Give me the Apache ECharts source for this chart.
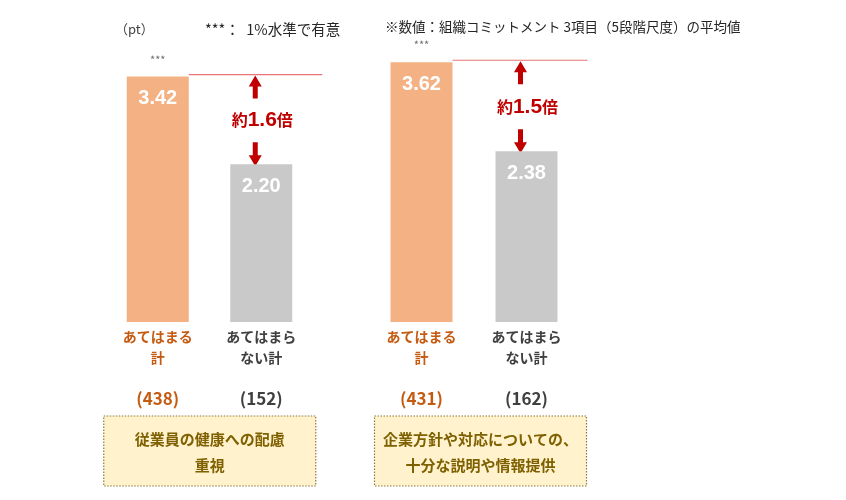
<!DOCTYPE html>
<html>
<head>
<meta charset="utf-8">
<script src="https://cdn.jsdelivr.net/npm/echarts@6/dist/echarts.min.js"></script>
<style>
  html, body { margin: 0; padding: 0; background: #fff; }
  #main { width: 846px; height: 500px; }
</style>
</head>
<body>
<div id="main"></div>
<script>
// データ
var catLines = [['あてはまる', '計'], ['あてはまら', 'ない計']];
var values1 = [3.42, 2.20];
var values2 = [3.62, 2.38];
var counts1 = [438, 152];
var counts2 = [431, 162];
var ratios = ['1.6', '1.5'];
var groupTitles = [['従業員の健康への配慮', '重視'], ['企業方針や対応についての、', '十分な説明や情報提供']];
var yMax = 4;

var FONT = '"Noto Sans CJK JP", "Noto Sans", sans-serif';
var ORANGE = '#F4B183', GRAY = '#C9C9C9';
var ORANGE_TXT = '#C55A11', DARK_TXT = '#404040';
var RED = '#C00000', RED_LINE = '#E87474';

var chart = echarts.init(document.getElementById('main'));

function xAxisFor(gi, counts) {
	return {
		type: 'category', gridIndex: gi, data: catLines.map(function(l){ return l.join(''); }),
		axisLine: {show: false}, axisTick: {show: false},
		axisLabel: {
			margin: 4, interval: 0,
			formatter: function(v, i){
				var s = i == 0 ? 'o' : 'd';
				return '{' + s + '|' + catLines[i][0] + '}\n{' + s + '|' + catLines[i][1] + '}\n{g| }\n{' + s + 'n|(' + counts[i] + ')}';
			},
			rich: {
				o: {color: ORANGE_TXT, fontSize: 14, fontWeight: 'bold', fontFamily: FONT, lineHeight: 21},
				d: {color: DARK_TXT, fontSize: 14, fontWeight: 'bold', fontFamily: FONT, lineHeight: 21},
				g: {fontSize: 10, lineHeight: 20},
				on: {color: ORANGE_TXT, fontSize: 17, fontWeight: 'bold', fontFamily: FONT, lineHeight: 21},
				dn: {color: DARK_TXT, fontSize: 17, fontWeight: 'bold', fontFamily: FONT, lineHeight: 21}
			}
		}
	};
}

function yAxisFor(gi) {
	return {type: 'value', gridIndex: gi, min: 0, max: yMax, show: false, splitLine: {show: false}};
}

function seriesFor(gi, vals) {
	return {
		type: 'bar', xAxisIndex: gi, yAxisIndex: gi, barWidth: 62,
		data: vals.map(function(v, i){ return {value: v, itemStyle: {color: i == 0 ? ORANGE : GRAY}}; }),
		label: {
			show: true, position: 'insideTop', distance: 12,
			color: '#fff', fontSize: 20, fontWeight: 'bold', fontFamily: 'Arial, "Liberation Sans", sans-serif',
			formatter: function(p){ return p.value.toFixed(2); }
		},
		silent: true
	};
}

chart.setOption({
	animation: false,
	grid: [
		{left: 106, width: 207, top: 35, bottom: 178},
		{left: 369, width: 210, top: 35, bottom: 178}
	],
	xAxis: [xAxisFor(0, counts1), xAxisFor(1, counts2)],
	yAxis: [yAxisFor(0), yAxisFor(1)],
	series: [seriesFor(0, values1), seriesFor(1, values2)]
});

// 注釈（矢印・線・枠）
function arrow(x, yTip, yTail) {
	var dir = yTail > yTip ? 1 : -1, head = 11, hw = 6.5, sw = 2.5;
	var yh = yTip + dir * head;
	return {
		type: 'polygon', silent: true,
		shape: {points: [[x, yTip], [x + hw, yh], [x + sw, yh], [x + sw, yTail], [x - sw, yTail], [x - sw, yh], [x - hw, yh]]},
		style: {fill: RED}
	};
}

var els = [];
els.push({type: 'text', left: 115, top: 23, style: {text: '（pt）', font: '13px ' + FONT, fill: '#404040'}});
els.push({type: 'text', left: 205, top: 22, style: {text: '***：  1%水準で有意', font: '14.5px ' + FONT, fill: '#262626'}});
els.push({type: 'text', left: 385, top: 20, style: {text: '※数値：組織コミットメント 3項目（5段階尺度）の平均値', font: '13.5px ' + FONT, fill: '#262626'}});

var boxOff = [23, 16];
[values1, values2].forEach(function(vals, gi){
	var hi = chart.convertToPixel({xAxisIndex: gi, yAxisIndex: gi}, [0, vals[0]]);
	var lo = chart.convertToPixel({xAxisIndex: gi, yAxisIndex: gi}, [1, vals[1]]);
	var half = 31;
	var lineY = hi[1] - 2;
	els.push({type: 'text', x: hi[0], y: hi[1] - 17, style: {text: '***', font: '11px ' + FONT, fill: '#6f6f6f', align: 'center', verticalAlign: 'middle'}});
	els.push({type: 'line', silent: true, shape: {x1: hi[0] + half, y1: lineY, x2: lo[0] + half + 30, y2: lineY}, style: {stroke: RED_LINE, lineWidth: 1.2}});
	var ax = lo[0] - 6;
	els.push(arrow(ax, lineY + 1, lineY + 24));
	els.push(arrow(ax, lo[1] + 2, lo[1] - 22));
	els.push({
		type: 'text', x: lo[0] + 1, y: (lineY + lo[1]) / 2 + 1,
		style: {
			text: '{a|約}{b|' + ratios[gi] + '}{a|倍}', align: 'center', verticalAlign: 'middle',
			rich: {
				a: {fontSize: 16, fontWeight: 'bold', fill: RED, fontFamily: FONT},
				b: {fontSize: 21, fontWeight: 'bold', fill: RED, fontFamily: 'Arial, "Liberation Sans", sans-serif'}
			}
		}
	});
	var bx = hi[0] - half - boxOff[gi], bw = 212;
	els.push({type: 'rect', silent: true, shape: {x: bx, y: 416, width: bw, height: 70},
		style: {fill: '#FFF2CC', stroke: '#8C7A3A', lineWidth: 1.2, lineDash: [1.5, 1.5]}});
	els.push({type: 'text', x: bx + bw / 2, y: 452,
		style: {text: groupTitles[gi].join('\n'), align: 'center', verticalAlign: 'middle', lineHeight: 26,
			font: 'bold 15px ' + FONT, fill: '#7F6000'}});
});

chart.setOption({graphic: {elements: els}});
</script>
</body>
</html>
